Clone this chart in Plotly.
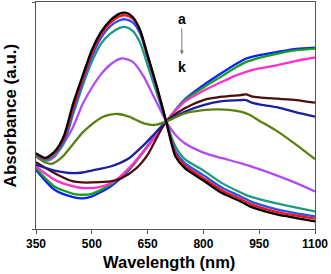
import plotly.graph_objects as go

# ---- data (wavelength nm, absorbance a.u.) ----
a_x = [350,375,400,425,450,475,500,525,550,575,590,610,630,650,675,700,725,750,800,850,900,925,950,1000,1050,1100]
a_y = [2.28,2.14,2.33,2.80,3.78,4.60,5.38,5.93,6.28,6.48,6.51,6.38,5.98,5.23,4.28,3.23,2.18,1.83,1.46,1.08,0.83,0.68,0.58,0.43,0.33,0.23]

b_x = a_x
b_y = [2.26,2.12,2.30,2.72,3.66,4.50,5.28,5.86,6.20,6.40,6.43,6.33,5.96,5.20,4.26,3.23,2.26,1.91,1.53,1.16,0.90,0.76,0.66,0.51,0.40,0.31]

c_x = a_x
c_y = [2.25,2.10,2.28,2.65,3.56,4.42,5.18,5.76,6.10,6.28,6.31,6.22,5.88,5.16,4.23,3.23,2.33,1.98,1.62,1.24,0.98,0.84,0.74,0.58,0.47,0.38]

d_x = a_x
d_y = [2.23,2.06,2.23,2.58,3.46,4.30,5.03,5.58,5.88,6.05,6.08,5.96,5.60,4.93,4.08,3.23,2.48,2.10,1.76,1.38,1.10,0.98,0.90,0.76,0.64,0.53]

e_x = [350,380,400,425,450,475,500,525,550,580,610,640,660,680,700,725,750,800,850,900,950,1000,1050,1100]
e_y = [2.26,2.06,2.18,2.58,3.08,3.75,4.25,4.66,4.95,5.13,5.03,4.58,4.13,3.68,3.23,2.83,2.58,2.30,2.13,1.98,1.80,1.60,1.38,1.13]

f_x = [350,375,392,420,450,475,500,525,550,570,600,640,670,700,750,800,836,875,900,925,950,1000,1050,1100]
f_y = [2.18,2.00,1.96,2.16,2.56,2.90,3.15,3.35,3.44,3.46,3.38,3.18,3.13,3.23,3.48,3.58,3.60,3.58,3.53,3.43,3.26,2.93,2.53,2.10]

g_x = [350,400,450,475,500,550,600,640,670,700,750,800,850,900,915,930,950,1000,1050,1100]
g_y = [1.93,1.76,1.68,1.70,1.76,1.88,2.13,2.53,2.88,3.23,3.53,3.73,3.85,3.88,3.88,3.80,3.75,3.66,3.51,3.38]

h_x = [350,400,450,475,500,550,580,620,650,700,750,800,850,900,915,930,950,1000,1050,1100]
h_y = [2.01,1.68,1.43,1.40,1.40,1.43,1.53,1.83,2.23,3.23,3.63,3.88,3.98,4.03,4.05,3.99,3.96,3.92,3.88,3.80]

i_x = [350,400,450,480,520,560,600,650,700,750,800,850,890,915,930,950,1000,1050,1100]
i_y = [1.88,1.48,1.28,1.23,1.26,1.43,1.83,2.48,3.23,3.83,4.16,4.43,4.63,4.73,4.78,4.83,4.93,5.06,5.16]

j_x = [350,400,450,475,500,550,600,650,700,750,800,850,890,915,930,950,1000,1050,1100]
j_y = [1.83,1.28,1.06,1.03,1.06,1.33,1.80,2.48,3.23,3.88,4.26,4.60,4.88,5.03,5.08,5.15,5.28,5.38,5.43]

k_x = [350,400,450,475,500,550,600,650,700,750,800,850,890,915,930,950,1000,1050,1100]
k_y = [1.78,1.18,0.96,0.92,0.98,1.28,1.78,2.50,3.23,3.90,4.33,4.70,4.98,5.13,5.18,5.23,5.33,5.42,5.46]

series = [
    ("a", a_x, a_y, "#000000"),
    ("b", b_x, b_y, "#ff1010"),
    ("c", c_x, c_y, "#2a4dff"),
    ("d", d_x, d_y, "#1f9a82"),
    ("e", e_x, e_y, "#b04cf5"),
    ("f", f_x, f_y, "#5a8012"),
    ("g", g_x, g_y, "#1a1f9e"),
    ("h", h_x, h_y, "#4d0d0d"),
    ("i", i_x, i_y, "#ff2fd0"),
    ("j", j_x, j_y, "#14a01e"),
    ("k", k_x, k_y, "#0a20ff"),
]

x_ticks = [350, 500, 650, 800, 950, 1100]

fig = go.Figure()
for name, xs, ys, col in reversed(series):
    fig.add_trace(go.Scatter(x=xs, y=ys, mode="lines", name=name,
                             line=dict(color=col, width=2.3, shape="spline", smoothing=0.7),
                             showlegend=False))

font_fam = "Liberation Sans, Arial, sans-serif"
axis_col = "#555555"

fig.update_layout(
    width=331, height=274,
    margin=dict(l=36, r=16, t=2, b=45),
    paper_bgcolor="white", plot_bgcolor="white",
    font=dict(family=font_fam, color="black"),
    xaxis=dict(range=[350, 1100], tickvals=x_ticks, ticktext=[str(v) for v in x_ticks],
               ticks="outside", ticklen=4, tickwidth=1, tickcolor=axis_col,
               showline=True, linecolor=axis_col, linewidth=1, mirror=True,
               showgrid=False, zeroline=False,
               tickfont=dict(size=12, family=font_fam, weight="bold")),
    yaxis=dict(range=[0, 6.83], tickvals=[0, 6.83], ticktext=["", ""],
               ticks="outside", ticklen=3, tickwidth=1, tickcolor=axis_col,
               showline=True, linecolor=axis_col, linewidth=1, mirror=True,
               showgrid=False, zeroline=False),
)

fig.add_annotation(text="Wavelength (nm)", xref="paper", yref="paper",
                   x=0.475, y=-0.147, xanchor="center", yanchor="middle", showarrow=False,
                   font=dict(size=16.5, family=font_fam, weight="bold"))
fig.add_annotation(text="Absorbance (a.u.)", xref="paper", yref="paper",
                   x=-0.09, y=0.5, xanchor="center", yanchor="middle", showarrow=False,
                   textangle=-90, font=dict(size=17, family=font_fam, weight="bold"))

fig.add_annotation(text="a", x=742, y=6.33, showarrow=False,
                   font=dict(size=14, family=font_fam, weight="bold"))
fig.add_annotation(text="k", x=742, y=4.88, showarrow=False,
                   font=dict(size=14, family=font_fam, weight="bold"))
fig.add_annotation(x=742, y=5.25, ax=742, ay=6.08, axref="x", ayref="y",
                   text="", showarrow=True, arrowhead=2, arrowsize=0.8,
                   arrowwidth=1, arrowcolor="#777777")

fig.write_html("out.html", config={"displayModeBar": False},
               post_script="document.body.style.margin='0';document.body.style.overflow='hidden';")
